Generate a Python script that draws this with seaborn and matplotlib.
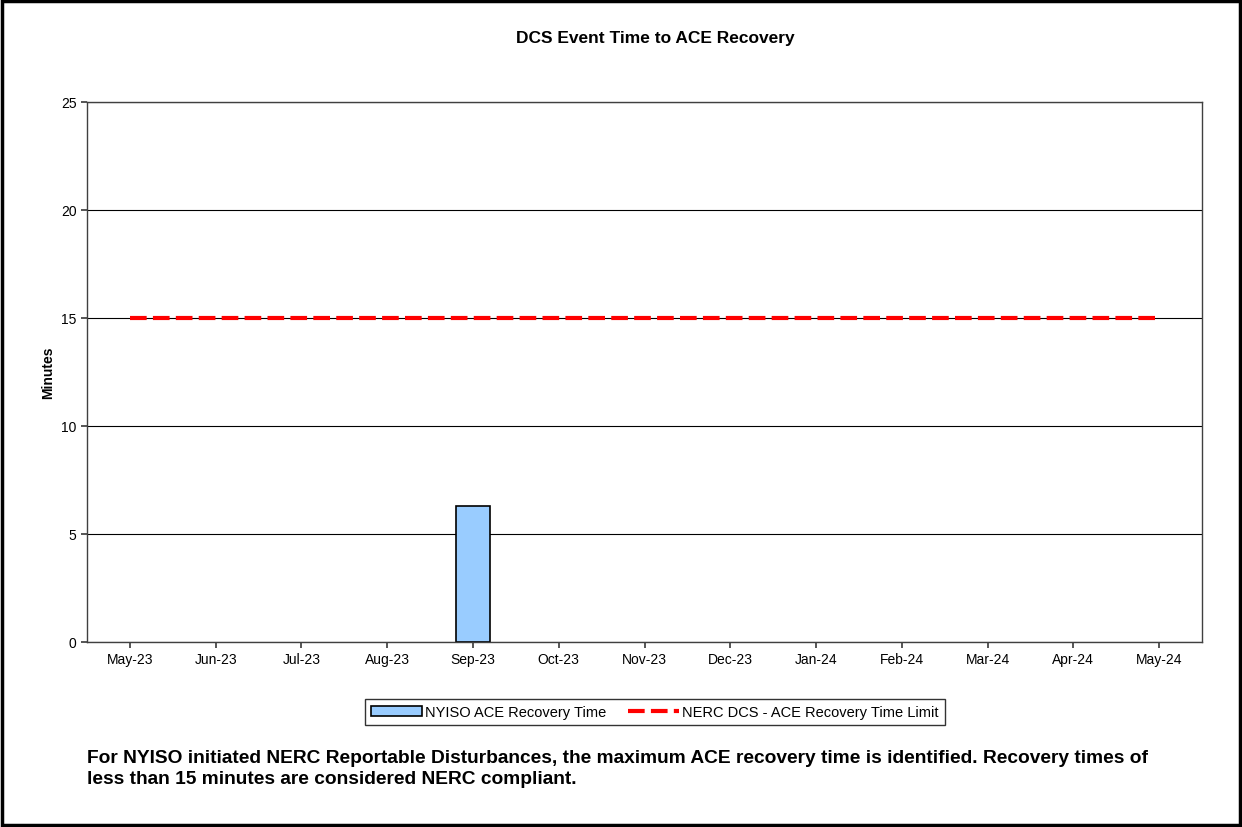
import matplotlib.pyplot as plt
import seaborn as sns
import numpy as np
import pandas as pd
from matplotlib.patches import Rectangle

months = ["May-23", "Jun-23", "Jul-23", "Aug-23", "Sep-23", "Oct-23", "Nov-23",
          "Dec-23", "Jan-24", "Feb-24", "Mar-24", "Apr-24", "May-24"]
recovery = [np.nan, np.nan, np.nan, np.nan, 6.3, np.nan, np.nan,
            np.nan, np.nan, np.nan, np.nan, np.nan, np.nan]
limit = [15] * len(months)

sns.set_theme(style="white")
plt.rcParams['font.family'] = ['Liberation Sans', 'DejaVu Sans']
plt.rcParams['text.color'] = 'black'
plt.rcParams['axes.labelcolor'] = 'black'
plt.rcParams['xtick.color'] = 'black'
plt.rcParams['ytick.color'] = 'black'

fig = plt.figure(figsize=(12.42, 8.28), dpi=100)
ax = fig.add_axes([87 / 1242, 1 - 643 / 828, 1115 / 1242, 540 / 828])

df = pd.DataFrame({"month": months, "recovery": recovery})
sns.barplot(data=df, x="month", y="recovery", ax=ax, color="#99ccff",
            edgecolor="black", linewidth=1.2, width=0.4, saturation=1,
            label="NYISO ACE Recovery Time")
sns.lineplot(x=np.arange(len(months)), y=limit, ax=ax, color="#ff0000",
             linewidth=3, label="NERC DCS - ACE Recovery Time Limit")
ax.lines[-1].set_dashes((4, 1.5))

ax.set_ylim(0, 25)
ax.set_yticks(range(0, 26, 5))
ax.set_xlim(-0.5, len(months) - 0.5)
ax.yaxis.grid(True, color="black", linewidth=0.8)
ax.set_axisbelow(True)
for s in ax.spines.values():
    s.set_color("#404040")
    s.set_linewidth(1)
ax.tick_params(axis="both", labelsize=10, length=4, color="#404040", direction="out",
               left=True, bottom=True)
ax.set_xlabel("")
ax.set_ylabel("Minutes", fontsize=10, fontweight="bold")
fig.text(655 / 1242, 1 - 38 / 828, "DCS Event Time to ACE Recovery",
         fontsize=12.5, fontweight="bold", ha="center", va="center")

handles, labels = ax.get_legend_handles_labels()
bar_idx = labels.index("NYISO ACE Recovery Time")
order = [bar_idx] + [i for i in range(len(labels)) if i != bar_idx]
leg = ax.legend([handles[i] for i in order], [labels[i] for i in order],
                loc="center", bbox_to_anchor=(655 / 1242, 1 - 713 / 828),
                bbox_transform=fig.transFigure, ncol=2, fontsize=10.5, frameon=True,
                fancybox=False, edgecolor="black", borderpad=0.4, handlelength=3.5,
                handletextpad=0.2, columnspacing=1.5)
leg.get_frame().set_linewidth(1)

fig.text(87 / 1242, 1 - 769 / 828,
         "For NYISO initiated NERC Reportable Disturbances, the maximum ACE recovery time is identified. Recovery times of\n"
         "less than 15 minutes are considered NERC compliant.",
         fontsize=13.8, fontweight="bold", va="center", ha="left", linespacing=1.35)

fig.patches.append(Rectangle((0.002, 0.002), 0.996, 0.996, transform=fig.transFigure,
                             fill=False, edgecolor="black", linewidth=2.5))

fig.savefig("out.png", dpi=100)
